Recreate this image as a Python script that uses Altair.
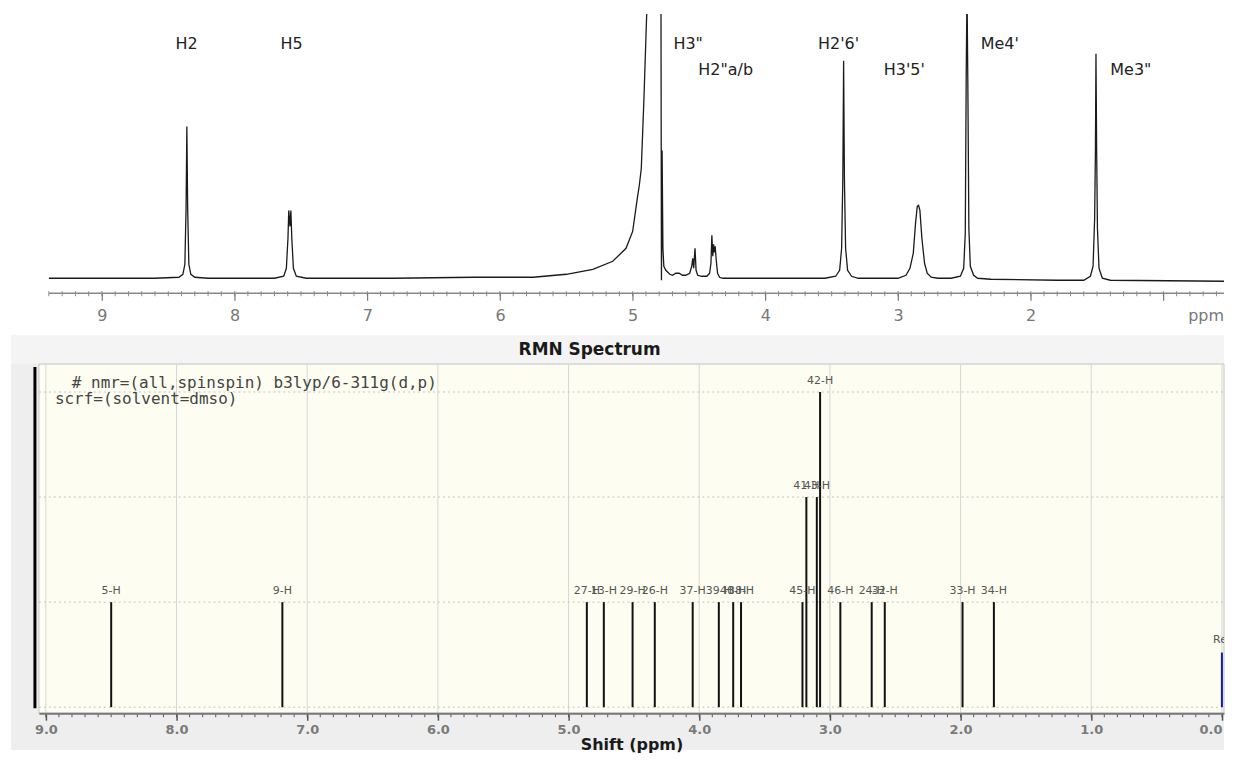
import altair as alt
import pandas as pd

exp_ppm = [9.40, 8.60, 8.42, 8.39, 8.375, 8.366, 8.36, 8.354, 8.345, 8.33, 8.30, 8.20,
           7.70, 7.63, 7.61, 7.598, 7.592, 7.583, 7.576, 7.569, 7.557, 7.535, 7.46,
           6.80, 6.20, 5.75, 5.50, 5.30, 5.15, 5.05, 5.00, 4.965, 4.950, 4.935, 4.915, 4.895,
           4.88, 4.80, 4.787, 4.783, 4.778, 4.772, 4.765, 4.75, 4.72, 4.70, 4.675, 4.65, 4.625,
           4.60, 4.57, 4.555, 4.547, 4.54, 4.53, 4.522, 4.51, 4.48, 4.44, 4.42, 4.41, 4.403,
           4.396, 4.39, 4.384, 4.378, 4.37, 4.36, 4.345, 4.32,
           3.55, 3.47, 3.44, 3.425, 3.416, 3.41, 3.404, 3.395, 3.38, 3.35, 3.30,
           3.00, 2.94, 2.91, 2.885, 2.868, 2.855, 2.845, 2.835, 2.82, 2.80, 2.78, 2.75, 2.70,
           2.60, 2.53, 2.505, 2.493, 2.486, 2.48, 2.474, 2.466, 2.455, 2.43, 2.40,
           2.30, 1.80, 1.60, 1.55, 1.53, 1.518, 1.512, 1.508, 1.503, 1.497, 1.485, 1.46, 1.40, 0.543]
exp_int = [0, 0, 1, 4, 14, 70, 152, 70, 14, 4, 1, 0,
           0, 2, 10, 40, 68, 52, 68, 40, 10, 2, 0,
           0, 1, 1, 4, 9, 17, 30, 47, 80, 93, 110, 180, 262,
           310, 310, 310, -2, 128, 30, 12, 8, 4, 3, 5, 5, 3,
           3, 5, 12, 20, 10, 30, 8, 3, 2, 2, 5, 15, 43,
           22, 34, 26, 32, 18, 5, 1, 0,
           0, 2, 8, 30, 100, 218, 100, 30, 8, 2, 0,
           0, 3, 10, 25, 55, 72, 73, 68, 40, 15, 5, 1, 0,
           0, 2, 10, 45, 203, 290, 200, 50, 12, 3, 0,
           -1, -2, -2, 2, 12, 60, 130, 225, 130, 50, 10, 0, -2, -3]

peak_labels = ['H2', 'H5', 'H3"', 'H2"a/b', "H2'6'", "H3'5'", "Me4'", 'Me3"']
peak_label_ppm = [8.445, 7.655, 4.693, 4.505, 3.603, 3.107, 2.377, 1.40]
peak_label_int = [235, 235, 235, 209, 235, 209, 235, 209]

top_major = [9, 8, 7, 6, 5, 4, 3, 2, 1]
top_minor = [round(9.4 - 0.1 * k, 1) for k in range(89)]

# ---------------- bottom panel: computed stick spectrum ----------------
stick_ppm = [8.50, 7.19, 4.86, 4.73, 4.51, 4.34, 4.05, 3.85, 3.74, 3.68,
             3.21, 3.18, 3.10, 3.075, 2.92, 2.68, 2.58, 1.985, 1.745]
stick_deg = [1, 1, 1, 1, 1, 1, 1, 1, 1, 1, 1, 2, 2, 3, 1, 1, 1, 1, 1]
stick_lab = ["5-H", "9-H", "27-H", "13-H", "29-H", "26-H", "37-H", "39-H", "40-H", "38-H",
             "45-H", "41-H", "43-H", "42-H", "46-H", "24-H", "32-H", "33-H", "34-H"]
ref_ppm = [0.0]
ref_deg = [0.52]
ref_lab = ["Ref"]

bot_major = [9.0, 8.0, 7.0, 6.0, 5.0, 4.0, 3.0, 2.0, 1.0, 0.0]
bot_minor = [round(9.0 - 0.1 * k, 1) for k in range(91)]
bot_ygrid = [0, 1, 2, 3]

keyword_lines = ["# nmr=(all,spinspin) b3lyp/6-311g(d,p)", "scrf=(solvent=dmso)"]
panel_title = "RMN Spectrum"

W = 1188
H_TOP = 280
H_BOT = 350

# ---------------- data frames ----------------
exp_df = pd.DataFrame({"ppm": exp_ppm, "intensity": exp_int})
plab_df = pd.DataFrame({"ppm": peak_label_ppm, "intensity": peak_label_int, "label": peak_labels})
tmin_df = pd.DataFrame({"ppm": top_minor})
stick_df = pd.DataFrame({"ppm": stick_ppm, "deg": stick_deg, "label": stick_lab})
ref_df = pd.DataFrame({"ppm": ref_ppm, "deg": ref_deg, "label": ref_lab})
bmin_df = pd.DataFrame({"ppm": bot_minor})
xgrid_df = pd.DataFrame({"ppm": bot_major})
ygrid_df = pd.DataFrame({"deg": bot_ygrid})
one = pd.DataFrame({"a": [0]})

# ---------------- top chart ----------------
x_top_scale = alt.Scale(domain=[9.475, 0.543], nice=False, zero=False)
y_top_scale = alt.Scale(domain=[-15, 265], nice=False, zero=False)
x_top_axis = alt.Axis(values=top_major, format="d",
                      labelExpr="datum.value == 1 ? '' : datum.label",
                      domain=False, grid=False, tickSize=7, tickColor="#777", tickWidth=1.2,
                      labelFont="DejaVu Sans", labelFontSize=16, labelColor="#777",
                      labelPadding=7, zindex=1)

def xt(field="ppm"):
    return alt.X(f"{field}:Q", scale=x_top_scale, axis=x_top_axis, title=None)

def yt(field="intensity"):
    return alt.Y(f"{field}:Q", scale=y_top_scale, axis=None)

top_axisline = alt.Chart(one).mark_rule(color="#888", strokeWidth=1.5).encode(
    x=alt.datum(9.40, scale=x_top_scale, axis=x_top_axis, type="quantitative"),
    x2=alt.value(W), y=alt.value(H_TOP))

top_minor_ticks = alt.Chart(tmin_df).mark_rule(color="#888", strokeWidth=1).encode(
    x=xt(), y=alt.value(H_TOP - 2), y2=alt.value(H_TOP + 3))

top_line = alt.Chart(exp_df).mark_line(color="#1a1a1a", strokeWidth=1.3, clip=True).encode(
    x=xt(), y=yt())

top_text = alt.Chart(plab_df).mark_text(align="left", baseline="middle", font="DejaVu Sans",
                                        fontSize=16, color="#222").encode(
    x=xt(), y=yt(), text="label:N")

ppm_text = alt.Chart(one).mark_text(align="center", baseline="middle", font="DejaVu Sans",
                                    fontSize=16, color="#777", text="ppm").encode(
    x=alt.datum(0.678, scale=x_top_scale, axis=x_top_axis, type="quantitative"),
    y=alt.value(H_TOP + 23))

top = alt.layer(top_axisline, top_minor_ticks, top_line, top_text, ppm_text).properties(
    width=W, height=H_TOP, view=alt.ViewBackground(stroke="transparent", fill="white"))

# ---------------- bottom chart ----------------
x_bot_scale = alt.Scale(domain=[9.053, -0.016], nice=False, zero=False)
y_bot_scale = alt.Scale(domain=[-0.057, 3.266], nice=False, zero=False)
x_bot_axis = alt.Axis(values=bot_major, format=".1f", grid=False,
                      domainColor="#777", domainWidth=2, tickColor="#555", tickWidth=1.5, tickSize=7,
                      labelFont="DejaVu Sans", labelFontSize=13, labelFontWeight="bold",
                      labelColor="#7a7a7a", labelPadding=3, labelFlush=4,
                      titleFont="DejaVu Sans", titleFontSize=16, titleFontWeight="bold",
                      titleColor="#1a1a1a", titlePadding=0, zindex=1)
y_bot_axis = alt.Axis(values=bot_ygrid, grid=False, labels=False, ticks=False, domain=False)

def xb(field="ppm"):
    return alt.X(f"{field}:Q", scale=x_bot_scale, axis=x_bot_axis, title="Shift (ppm)")

def yb(field="deg"):
    return alt.Y(f"{field}:Q", scale=y_bot_scale, axis=y_bot_axis, title=None)

panel = alt.Chart(one).mark_rect(color="#eeeeee").encode(
    x=alt.value(-28), x2=alt.value(W), y=alt.value(-29), y2=alt.value(H_BOT + 37))

header = alt.Chart(one).mark_rect(color="#f4f4f4").encode(
    x=alt.value(-28), x2=alt.value(W), y=alt.value(-29), y2=alt.value(0))

plot_bg = alt.Chart(one).mark_rect(fill="#fdfdf1", stroke="#c4c4c4", strokeWidth=1).encode(
    x=alt.value(0), x2=alt.value(W), y=alt.value(0), y2=alt.value(H_BOT))

xgrid = alt.Chart(xgrid_df).mark_rule(color="#d6d6d6", strokeWidth=1).encode(
    x=xb(), y=alt.value(0), y2=alt.value(H_BOT))

ygrid = alt.Chart(ygrid_df).mark_rule(color="#c4c4c4", strokeWidth=1, strokeDash=[2, 3]).encode(
    y=yb(), x=alt.value(0), x2=alt.value(W))

title_text = alt.Chart(one).mark_text(align="center", baseline="middle", font="DejaVu Sans",
                                      fontSize=17, fontWeight="bold", color="#1a1a1a",
                                      text=panel_title).encode(
    x=alt.value(552), y=alt.value(-14))

left_bar = alt.Chart(one).mark_rule(color="black", strokeWidth=3).encode(
    x=alt.value(-4), y=alt.value(3), y2=alt.value(H_BOT - 5))

sticks = alt.Chart(stick_df).mark_rule(color="#111", strokeWidth=2).encode(
    x=xb(), y=yb(), y2=alt.datum(0))

stick_text = alt.Chart(stick_df).mark_text(baseline="middle", dy=-11, font="DejaVu Sans",
                                           fontSize=11, color="#555", clip=True).encode(
    x=xb(), y=yb(), text="label:N")

ref_stick = alt.Chart(ref_df).mark_rule(color="#1414c8", strokeWidth=2).encode(
    x=xb(), y=yb(), y2=alt.datum(0))

ref_text = alt.Chart(ref_df).mark_text(baseline="middle", dy=-13, font="DejaVu Sans",
                                       fontSize=11, color="#555", clip=True).encode(
    x=xb(), y=yb(), text="label:N")

kw1 = alt.Chart(one).mark_text(align="left", baseline="middle", font="DejaVu Sans Mono",
                               fontSize=16, color="#444", text=keyword_lines[0]).encode(
    x=alt.value(33), y=alt.value(19))
kw2 = alt.Chart(one).mark_text(align="left", baseline="middle", font="DejaVu Sans Mono",
                               fontSize=16, color="#444", text=keyword_lines[1]).encode(
    x=alt.value(16), y=alt.value(35))

bot_minor_ticks = alt.Chart(bmin_df).mark_rule(color="#555", strokeWidth=1).encode(
    x=xb(), y=alt.value(H_BOT), y2=alt.value(H_BOT + 4))

bottom = alt.layer(panel, header, plot_bg, xgrid, ygrid, title_text, left_bar, sticks, stick_text,
                   ref_stick, ref_text, kw1, kw2, bot_minor_ticks).properties(
    width=W, height=H_BOT,
    view=alt.ViewBackground(stroke="transparent"))

chart = alt.vconcat(top, bottom, spacing=71, bounds="flush").properties(
    background="white",
    padding={"left": 2, "top": 4, "right": 0, "bottom": 0},
).configure(font="DejaVu Sans")

chart.save("out.html", embed_options={"renderer": "svg", "actions": False})
